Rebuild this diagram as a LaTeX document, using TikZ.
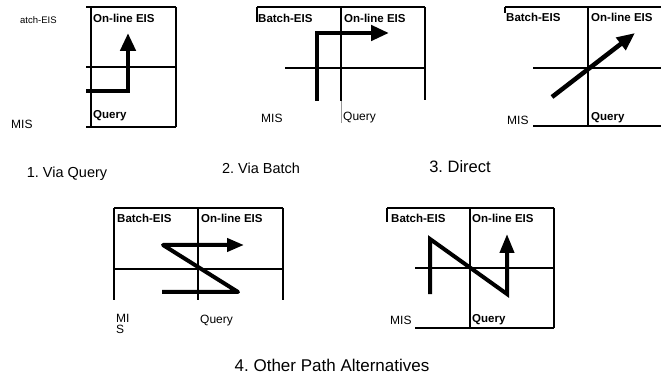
\documentclass[tikz,border=0pt]{standalone}
\usepackage{fontspec}
\setmainfont{Liberation Sans}
\usetikzlibrary{arrows.meta}
\frenchspacing
\tikzset{
  frame/.style={line width=2pt, black},
  grid/.style={line width=1.5pt, black},
  path arrow/.style={line width=4.5pt, -{Triangle[length=18pt,width=15pt]}},
  zpath/.style={line width=4pt},
  inlabel/.style={anchor=west, inner sep=0pt, font=\bfseries\fontsize{11.5}{12}\selectfont},
  outlabel/.style={anchor=west, inner sep=0pt, font=\fontsize{12}{12}\selectfont},
  caption/.style={inner sep=0pt, font=\fontsize{14.5}{15}\selectfont},
}
\begin{document}
\begin{tikzpicture}[x=1pt,y=-1pt]
\useasboundingbox (0,0) rectangle (661,379);
% ---------- Panel 1: Via Query ----------
\draw[frame] (86,7) -- (176,7);
\draw[frame] (86,127) -- (176,127);
\draw[frame] (91,7) -- (91,127);
\draw[frame] (176,7) -- (176,127);
\draw[grid] (86,67) -- (176,67);
\coordinate (p1a) at (86,91);
\coordinate (p1b) at (128,91);
\coordinate (p1c) at (128,33);
\draw[path arrow] (p1a) -- (p1b) -- (p1c);
\node[inlabel] (l1on) at (93,18) {On-line EIS};
\node[inlabel] (l1q) at (93,116) {Query};
\node[outlabel, font=\fontsize{9.5}{10}\selectfont] (l1b) at (20,20) {atch-EIS};
\node[outlabel] (l1mis) at (11,124) {MIS};
\node[caption] (c1) at (67,174) {1. Via Query};
% ---------- Panel 2: Via Batch ----------
\draw[frame] (257,7) -- (425,7);
\draw[frame] (257,7) -- (257,22);
\draw[frame] (425,7) -- (425,100);
\draw[grid] (341,7) -- (341,101);
\draw[line width=1pt, black!40] (341,101) -- (341,123);
\draw[grid] (285,68) -- (425,68);
\coordinate (p2a) at (317,101);
\coordinate (p2b) at (317,33);
\coordinate (p2c) at (389,33);
\draw[path arrow] (p2a) -- (p2b) -- (p2c);
\node[inlabel] (l2b) at (258,18) {Batch-EIS};
\node[inlabel] (l2on) at (344,18) {On-line EIS};
\node[outlabel] (l2mis) at (261,118) {MIS};
\node[outlabel] (l2q) at (343,118) {Query};
\node[caption] (c2) at (261,168) {2. Via Batch};
% ---------- Panel 3: Direct ----------
\draw[frame] (505,7) -- (661,7);
\draw[frame] (505,7) -- (505,13);
\draw[frame] (588,7) -- (588,127);
\draw[grid] (533,68) -- (661,68);
\draw[frame] (533,126) -- (661,126);
\coordinate (p3a) at (552,97);
\coordinate (p3b) at (635,33);
\draw[path arrow] (p3a) -- (p3b);
\node[inlabel] (l3b) at (506,17) {Batch-EIS};
\node[inlabel] (l3on) at (591,17) {On-line EIS};
\node[outlabel] (l3mis) at (507,120) {MIS};
\node[inlabel] (l3q) at (591,118) {Query};
\node[caption, font=\fontsize{16.5}{17}\selectfont] (c3) at (460,167) {3. Direct};
% ---------- Panel 4 ----------
\draw[frame] (114,208) -- (283,208);
\draw[frame] (114,208) -- (114,300);
\draw[frame] (283,208) -- (283,300);
\draw[grid] (198,208) -- (198,300);
\draw[grid] (114,269) -- (283,269);
\coordinate (p4a) at (162,292);
\coordinate (p4b) at (238,292);
\coordinate (p4c) at (163,245);
\coordinate (p4d) at (244,245);
\draw[zpath, -{Triangle[length=17pt,width=13pt]}, line join=round] (p4a) -- (p4b) -- (p4c) -- (p4d);
\node[inlabel] (l4b) at (117,218) {Batch-EIS};
\node[inlabel] (l4on) at (201,218) {On-line EIS};
\node[outlabel] (l4mi) at (116,318) {MI};
\node[outlabel] (l4s) at (116,329) {S};
\node[outlabel] (l4q) at (200,321) {Query};
% ---------- Panel 5 ----------
\draw[frame] (387,208) -- (554,208);
\draw[frame] (387,208) -- (387,222);
\draw[frame] (554,208) -- (554,328);
\draw[grid] (470,208) -- (470,328);
\draw[grid] (415,268) -- (554,268);
\draw[frame] (415,328) -- (554,328);
\coordinate (p5a) at (430,294);
\coordinate (p5b) at (430,239);
\coordinate (p5c) at (507,294);
\coordinate (p5d) at (507,234);
\draw[zpath, -{Triangle[length=19pt,width=14pt]}, line join=miter] (p5a) -- (p5b) -- (p5c) -- (p5d);
\node[inlabel] (l5b) at (391,218) {Batch-EIS};
\node[inlabel] (l5on) at (472,218) {On-line EIS};
\node[outlabel] (l5mis) at (390,320) {MIS};
\node[inlabel] (l5q) at (472,320) {Query};
\node[caption, font=\fontsize{17}{18}\selectfont] (c4) at (332,365) {4. Other Path Alternatives};
\end{tikzpicture}
\end{document}
